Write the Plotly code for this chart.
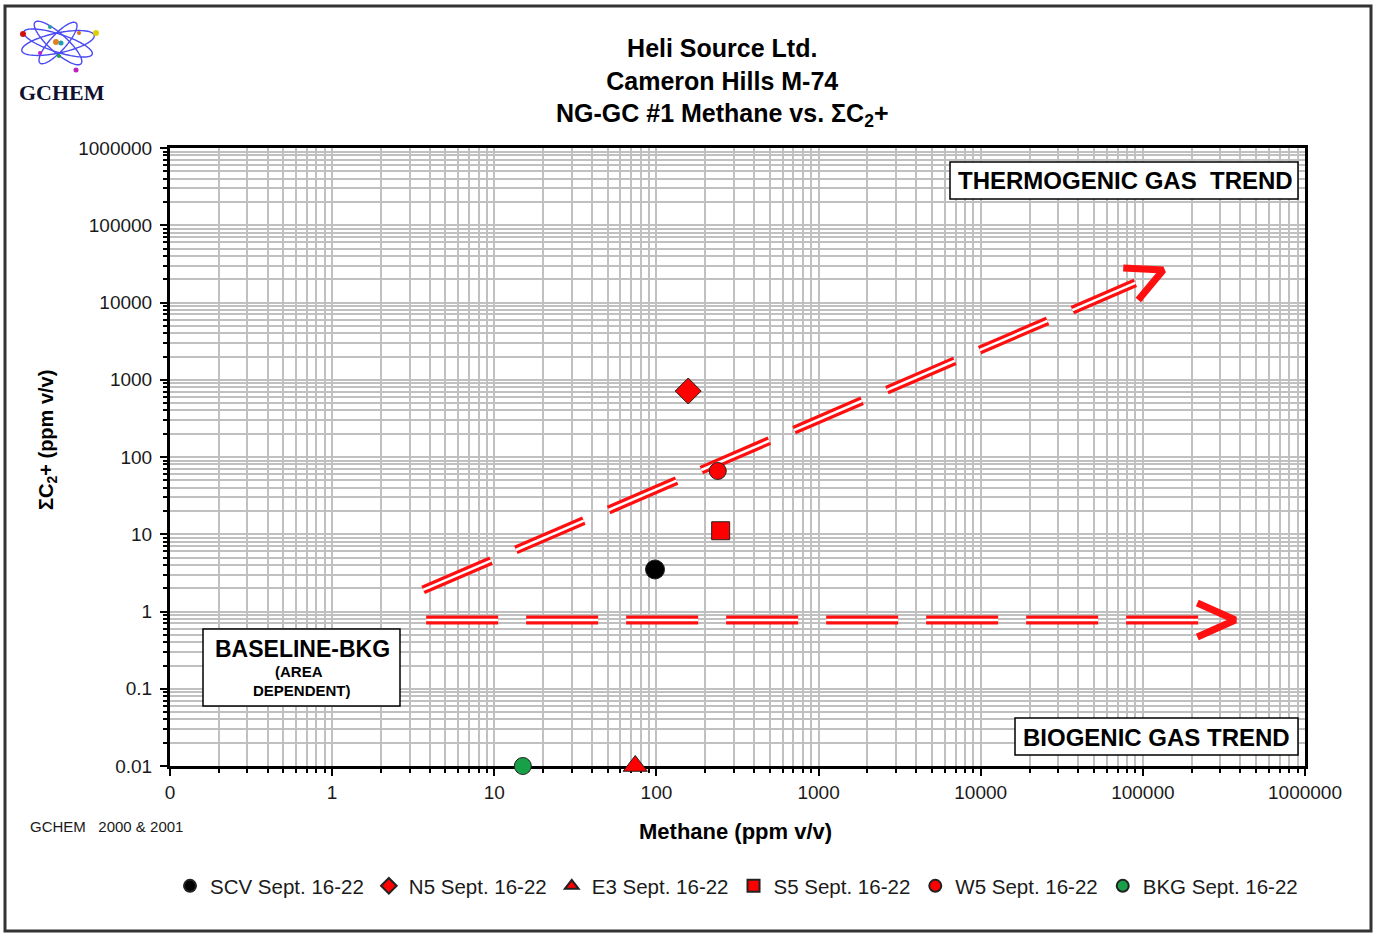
import numpy as np
import plotly.graph_objects as go

# ---- sample data (methane vs. sum of C2+ hydrocarbons, ppm v/v) ----
series_names = ["SCV Sept. 16-22", "N5 Sept. 16-22", "E3 Sept. 16-22",
                "S5 Sept. 16-22", "W5 Sept. 16-22", "BKG Sept. 16-22"]
methane = [98, 157, 74, 249, 239, 15]
c2_plus = [3.5, 715, 0.01, 11.1, 65.9, 0.01]
symbols = ["circle", "diamond", "triangle-up", "square", "circle", "circle"]
fill_colors = ["#000000", "#FF0000", "#FF0000", "#FF0000", "#FF0000", "#18A048"]
marker_sizes = [19, 20, 21, 18, 17, 17]

# ---- trend guide lines ----
thermo_x = [3.64, 89800]
thermo_y = [1.90, 17900]
thermo_head_x = [75700, 133600, 93700]
thermo_head_y = [28000, 26400, 10800]
bio_x = [3.80, 222800]
bio_y = [0.776, 0.776]
bio_head_x = [216700, 371500, 216700]
bio_head_y = [1.29, 0.776, 0.468]

# ---- axis ticks ----
x_tickvals = [0.1, 1, 10, 100, 1000, 10000, 100000, 1000000]
x_ticktext = ["0", "1", "10", "100", "1000", "10000", "100000", "1000000"]
y_tickvals = [0.01, 0.1, 1, 10, 100, 1000, 10000, 100000, 1000000]
y_ticktext = ["0.01", "0.1", "1", "10", "100", "1000", "10000", "100000", "1000000"]

W, H = 1376, 933
L, R, T, B = 170, 1305, 148, 766
FONT = "Arial, Liberation Sans, sans-serif"


def fx(p):
    return (p - L) / (R - L)


def fy(p):
    return (B - p) / (B - T)


def label(text, x, y, size, family=FONT, color="black", **kw):
    return dict(text=text, x=fx(x), y=fy(y), xref="paper", yref="paper", showarrow=False,
                xanchor="center", yanchor="middle",
                font=dict(family=family, size=size, color=color), **kw)


fig = go.Figure()

# double-line dashed trends: thick red stroke with a thin white core
for xs, ys, dash in [(thermo_x, thermo_y, "74px,27px"), (bio_x, bio_y, "72px,28px")]:
    fig.add_trace(go.Scatter(x=xs, y=ys, mode="lines", showlegend=False, hoverinfo="skip",
                             line=dict(color="#FF1010", width=9, dash=dash)))
    fig.add_trace(go.Scatter(x=xs, y=ys, mode="lines", showlegend=False, hoverinfo="skip",
                             line=dict(color="white", width=2.5, dash=dash)))
for xs, ys in [(thermo_head_x, thermo_head_y), (bio_head_x, bio_head_y)]:
    fig.add_trace(go.Scatter(x=xs, y=ys, mode="lines", showlegend=False, hoverinfo="skip",
                             line=dict(color="#FF1010", width=7)))

for name, xv, yv, sym, col, sz in zip(series_names, methane, c2_plus, symbols,
                                      fill_colors, marker_sizes):
    fig.add_trace(go.Scatter(
        x=[xv], y=[yv], mode="markers", name=name, cliponaxis=False,
        marker=dict(symbol=sym, color=col, size=sz, line=dict(color="#222222", width=1)),
    ))

grid = "#C0C0C0"
axis_common = dict(
    type="log", showline=True, linecolor="black", linewidth=3, mirror=True,
    ticks="outside", ticklen=7, tickwidth=2, tickcolor="black",
    showgrid=True, gridcolor=grid, gridwidth=1.5, zeroline=False,
    tickfont=dict(family=FONT, size=19, color="#1a1a1a"),
    minor=dict(dtick="D1", ticks="outside", ticklen=4, tickwidth=1.5, tickcolor="black",
               showgrid=True, gridcolor=grid, gridwidth=1.5),
    layer="below traces",
)
fig.update_xaxes(range=[-1, 6], tickvals=x_tickvals, ticktext=x_ticktext,
                 ticklabelstandoff=0, **axis_common)
fig.update_yaxes(range=[-2, 6], tickvals=y_tickvals, ticktext=y_ticktext,
                 ticklabelstandoff=4, **axis_common)

shapes = []
# outer frame
shapes.append(dict(type="rect", xref="paper", yref="paper", x0=fx(5), x1=fx(1371),
                   y0=fy(6), y1=fy(931), line=dict(color="#333333", width=3)))
# label boxes
for x0, x1, y0, y1 in [(950, 1298, 162, 199), (1015, 1298, 718, 755), (203, 400, 629, 706)]:
    shapes.append(dict(type="rect", xref="paper", yref="paper", x0=fx(x0), x1=fx(x1),
                       y0=fy(y0), y1=fy(y1), fillcolor="white",
                       line=dict(color="black", width=1.5), layer="above"))

# atom logo: tilted orbits
cx, cy = 58, 43
t = np.linspace(0, 2 * np.pi, 80)
for ang, rx, ry in [(-12, 37, 10), (18, 36, 9), (42, 31, 9), (-48, 27, 8)]:
    a = np.deg2rad(ang)
    px = cx + rx * np.cos(t) * np.cos(a) - ry * np.sin(t) * np.sin(a)
    py = cy + rx * np.cos(t) * np.sin(a) + ry * np.sin(t) * np.cos(a)
    path = "M " + " L ".join(f"{fx(u):.5f},{fy(v):.5f}" for u, v in zip(px, py)) + " Z"
    shapes.append(dict(type="path", xref="paper", yref="paper", path=path,
                       line=dict(color="#4A4AF5", width=1.4)))
for (dx, dy, col, r) in [(23, 34, "#D01010", 3), (96, 33, "#E0D000", 3), (76, 70, "#C020C0", 2.5),
                         (59, 56, "#20A040", 2), (50, 27, "#20A0A0", 2), (79, 33, "#E07020", 2),
                         (40, 53, "#C020C0", 2), (56, 42, "#E08020", 3), (61, 43, "#20A0B0", 2.5)]:
    shapes.append(dict(type="circle", xref="paper", yref="paper", x0=fx(dx - r), x1=fx(dx + r),
                       y0=fy(dy - r), y1=fy(dy + r), fillcolor=col, line=dict(width=0)))

annotations = [
    label("<b>Heli Source Ltd.<br>Cameron Hills M-74<br>NG-GC #1 Methane vs. ΣC<sub>2</sub>+</b>",
          722, 82, 25, align="center"),
    label("<b>Methane (ppm v/v)</b>", 735, 831, 22),
    label("<b>ΣC<sub>2</sub>+ (ppm v/v)</b>", 47, 440, 20, textangle=-90),
    label("<b>THERMOGENIC GAS&nbsp; TREND</b>", 1125, 180, 24),
    label("<b>BIOGENIC GAS TREND</b>", 1156, 737, 24),
    label("<b>BASELINE-BKG</b>", 302, 649, 23),
    label("<b>(AREA</b>", 299, 671, 15),
    label("<b>DEPENDENT)</b>", 302, 690, 15),
    label("<b>GCHEM</b>", 62, 93, 22, family="Liberation Serif, Times New Roman, serif",
          color="#101030"),
    label("GCHEM&nbsp;&nbsp; 2000 &amp; 2001", 106, 827, 15,
          family="Liberation Sans Narrow, Arial Narrow, " + FONT, color="#1a1a1a"),
]

fig.update_layout(
    width=W, height=H, autosize=False,
    margin=dict(l=L, r=W - R, t=T, b=H - B, pad=0),
    paper_bgcolor="white", plot_bgcolor="white",
    shapes=shapes, annotations=annotations,
    showlegend=True,
    legend=dict(orientation="h", x=fx(170), xanchor="left", y=fy(886), yanchor="middle",
                font=dict(family=FONT, size=20.5, color="#1a1a1a"), itemsizing="constant",
                bgcolor="rgba(0,0,0,0)", tracegroupgap=0),
)

fig.write_html("out.html")
